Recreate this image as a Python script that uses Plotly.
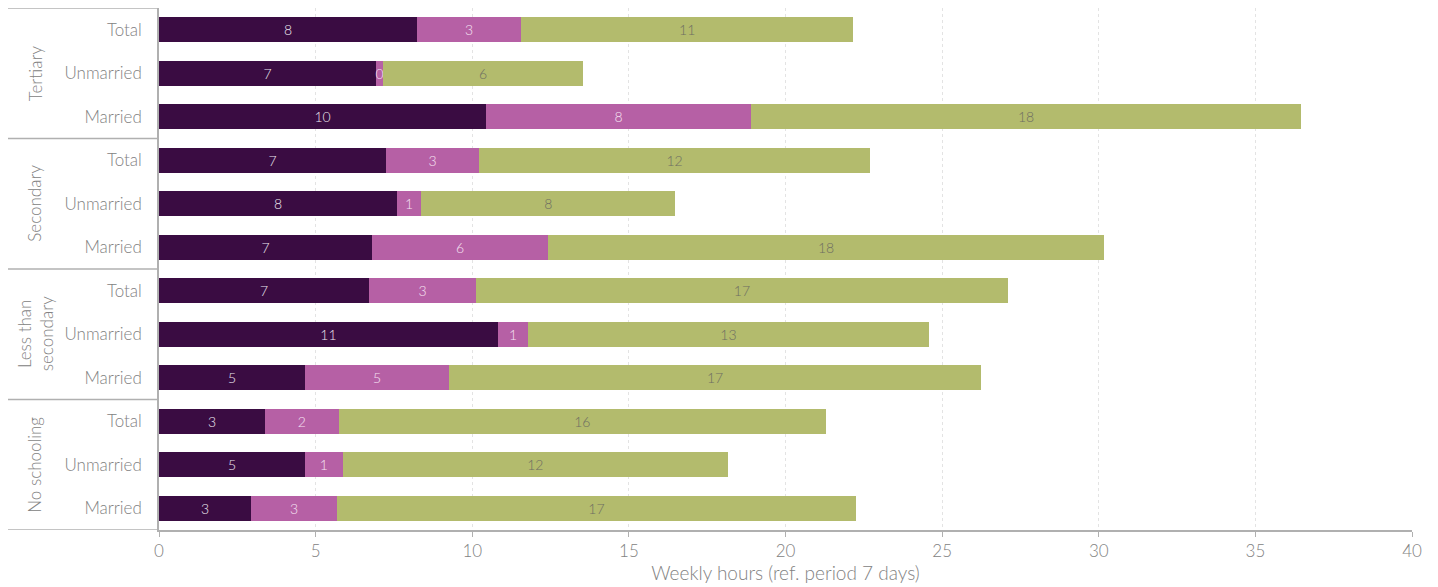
import plotly.graph_objects as go

group_names = ["No schooling", "Less than<br>secondary", "Secondary", "Tertiary"]
status_names = ["Married", "Unmarried", "Total"]
groups = [g for g in group_names for _ in status_names]
status = status_names * 4
keys = [f"{g}|{s}" for g, s in zip(groups, status)]

series_a = [2.94, 4.66, 3.38, 4.66, 10.82, 6.70, 6.80, 7.60, 7.25, 10.44, 6.93, 8.24]
series_b = [2.74, 1.21, 2.36, 4.60, 0.96, 3.42, 5.62, 0.77, 2.97, 8.46, 0.22, 3.32]
series_c = [16.57, 12.29, 15.55, 16.98, 12.80, 16.98, 17.75, 8.11, 12.48, 17.56, 6.39, 10.60]

names = ["Series A", "Series B", "Series C"]
colors = ["#3a0c42", "#b660a5", "#b3bb6d"]
text_colors = ["#ece6ee", "#f5e0f2", "#6e6e62"]

FONT = "Lato"
GREY = "#828282"
LINE = "#b0b0b0"

fig = go.Figure()
for name, vals, col, tcol in zip(names, [series_a, series_b, series_c], colors, text_colors):
    fig.add_trace(go.Bar(
        y=keys, x=vals, orientation="h", name=name,
        marker=dict(color=col, line=dict(width=0)),
        texttemplate="%{x:.0f}", textposition="inside", insidetextanchor="middle",
        textfont=dict(color=tcol, size=14, family=FONT, weight=300), constraintext="none",
    ))

W, H = 1430, 579
PL, PR, PT, PB = 151, 26, 0, 57
plot_w = W - PL - PR
left_edge = -PL / plot_w

shapes = []
for b in [-0.5, 2.5, 5.5, 8.5, 11.5]:
    shapes.append(dict(type="line", xref="paper", yref="y", x0=left_edge, x1=0, y0=b, y1=b,
                       line=dict(color=LINE, width=1.5)))
annotations = []
for i, g in enumerate(group_names):
    annotations.append(dict(
        text=g, xref="paper", yref="y", x=(27 - PL) / plot_w, y=3 * i + 1,
        xanchor="center", yanchor="middle", textangle=-90, showarrow=False,
        font=dict(size=17, color=GREY, family=FONT, weight=300), align="center",
    ))

fig.update_layout(
    barmode="stack", bargap=0.42, showlegend=False,
    width=W, height=H,
    margin=dict(l=PL, r=PR, t=PT, b=PB, autoexpand=False),
    plot_bgcolor="white", paper_bgcolor="white",
    font=dict(family=FONT, color=GREY, size=17, weight=300),
    shapes=shapes, annotations=annotations,
)
fig.update_xaxes(
    range=[0, 40], dtick=5, showgrid=True, gridcolor="#e3e3e3", griddash="3px,3px", gridwidth=1,
    showline=True, linecolor=LINE, linewidth=1.5, ticks="outside", ticklen=5,
    tickcolor=LINE, zeroline=False, automargin=False,
    tickfont=dict(size=17, color=GREY, weight=300),
    title=dict(text="Weekly hours (ref. period 7 days)", font=dict(size=19, color=GREY, weight=300), standoff=4),
)
fig.update_yaxes(
    type="category", categoryorder="array", categoryarray=keys,
    tickvals=keys, ticktext=status, range=[-0.5, 11.5],
    showline=True, linecolor=LINE, linewidth=1.5, automargin=False,
    tickfont=dict(size=17, color=GREY, weight=300), ticks="", ticklabelstandoff=12,
)

fig.write_html("out.html")
